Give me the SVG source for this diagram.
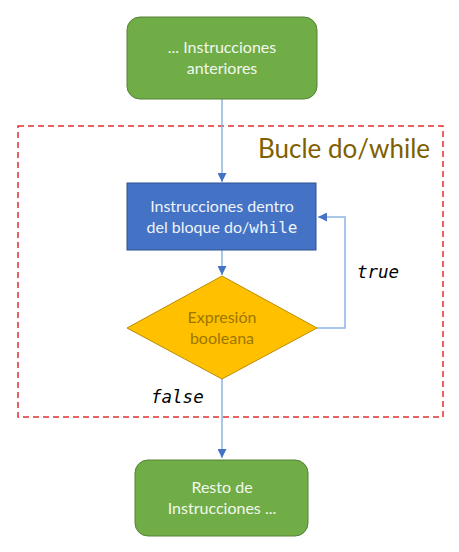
<svg xmlns="http://www.w3.org/2000/svg" width="459" height="552" viewBox="0 0 459 552">
<style>
.t{font-family:Lato,"Open Sans","Liberation Sans",sans-serif;font-size:16px;text-anchor:middle}
.m{font-family:"DejaVu Sans Mono","Liberation Mono",monospace}
.lbl{font-family:"DejaVu Sans Mono","Liberation Mono",monospace;font-style:italic;font-size:17.5px;fill:#000}
.c{fill:none;stroke:#8EB4E3;stroke-width:1.5}
</style>
<defs>
<marker id="ah" viewBox="0 0 10 10" refX="10" refY="5" markerWidth="6" markerHeight="6" orient="auto" markerUnits="strokeWidth">
<path d="M0,0L10,5L0,10z" fill="#4472C4"/>
</marker>
</defs>
<rect x="18" y="126" width="425" height="291" fill="none" stroke="#E03030" stroke-width="1.5" stroke-dasharray="6,4"/>
<text x="430" y="158" font-family="Lato,'Open Sans','Liberation Sans',sans-serif" font-size="26" fill="#7F6000" text-anchor="end">Bucle do/while</text>
<g id="connectors">
<path class="c" d="M222,99V182" marker-end="url(#ah)"/>
<path class="c" d="M222,250V275" marker-end="url(#ah)"/>
<path class="c" d="M317,328H345V217H318" marker-end="url(#ah)"/>
<path class="c" d="M222,379V458" marker-end="url(#ah)"/>
<text class="lbl" x="357" y="278">true</text>
<text class="lbl" x="151" y="403">false</text>
</g>
<g id="n-anteriores">
<rect x="127" y="17" width="190" height="82" rx="13" fill="#70AD47" stroke="#548235" stroke-width="1"/>
<text class="t" x="222" y="53" fill="#F2F8EE">... Instrucciones</text>
<text class="t" x="222" y="74" fill="#F2F8EE">anteriores</text>
</g>
<g id="n-bloque">
<rect x="127" y="183" width="189" height="67" fill="#4472C4" stroke="#2F528F" stroke-width="1"/>
<text class="t" x="222" y="212" fill="#EEF2FA">Instrucciones dentro</text>
<text class="t" x="222" y="233" fill="#EEF2FA">del bloque do/<tspan class="m">while</tspan></text>
</g>
<g id="n-expresion">
<polygon points="222,276 317,328 222,379 127,328" fill="#FFC000" stroke="#BC8C00" stroke-width="1"/>
<text class="t" x="222" y="323" fill="#9C7600">Expresión</text>
<text class="t" x="222" y="344" fill="#9C7600">booleana</text>
</g>
<g id="n-resto">
<rect x="135" y="460" width="173" height="76" rx="13" fill="#70AD47" stroke="#548235" stroke-width="1"/>
<text class="t" x="222" y="493" fill="#F2F8EE">Resto de</text>
<text class="t" x="222" y="514" fill="#F2F8EE">Instrucciones ...</text>
</g>
</svg>
